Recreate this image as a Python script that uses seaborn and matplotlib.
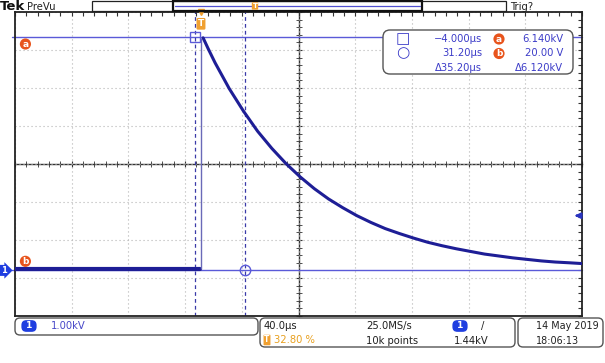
import numpy as np
import matplotlib
matplotlib.use("Agg")
import matplotlib.pyplot as plt
import seaborn as sns
from matplotlib.patches import FancyBboxPatch, Rectangle
from matplotlib.lines import Line2D

# --- data (time in µs, voltage in kV) ---
pre_t = [-131.2, -0.4]
pre_v = [0.03, 0.03]
edge_t = 0.3
decay_t = [1.5, 5, 10, 20, 30, 40, 50, 60, 70, 80, 90, 100, 110, 120, 130,
           140, 150, 160, 170, 180, 190, 200, 210, 220, 230, 240, 250, 260, 268.8]
decay_v = [6.12, 5.84, 5.46, 4.78, 4.19, 3.66, 3.21, 2.81, 2.46, 2.15, 1.88,
           1.65, 1.44, 1.26, 1.10, 0.97, 0.85, 0.74, 0.65, 0.57, 0.50, 0.43,
           0.38, 0.33, 0.29, 0.25, 0.22, 0.20, 0.18]

cursor_t = [-4.0, 31.2]       # vertical cursors a, b
cursor_v = [6.14, 0.02]       # horizontal cursors a, b
trig_level = 1.44
readout_t = ["\u22124.000µs", "31.20µs", "Δ35.20µs"]
readout_v = ["6.140kV", "20.00 V", "Δ6.120kV"]

# screen settings
t_div, v_div = 40.0, 1.0
t_left = -131.2
v_bottom = -1.2

TRACE = "#1e1e96"
CURSOR = "#5a5ad8"
TXT_BLUE = "#3c3cc8"
ORANGE = "#f0a030"
RED_OR = "#e8541c"
CH_BLUE = "#1f3ee0"
FS = 7.2

sns.set_style("white")
plt.rcParams["font.family"] = ["DejaVu Sans"]

W, H = 605, 363
fig = plt.figure(figsize=(6.05, 3.63), dpi=100)
ax = fig.add_axes([15 / W, 1 - 316 / H, 567 / W, 304 / H])

t_right = t_left + 10 * t_div
v_top = v_bottom + 8 * v_div
ax.set_xlim(t_left, t_right)
ax.set_ylim(v_bottom, v_top)

# graticule
x_major = t_left + t_div * np.arange(11)
y_major = v_bottom + v_div * np.arange(9)
x_minor = t_left + t_div / 5 * np.arange(51)
y_minor = v_bottom + v_div / 5 * np.arange(41)
ax.set_xticks(x_major)
ax.set_yticks(y_major)
ax.set_xticks(x_minor, minor=True)
ax.set_yticks(y_minor, minor=True)
ax.tick_params(which="both", direction="in", length=3, top=True, right=True,
               labelbottom=False, labelleft=False, color="#333333", width=0.8)
ax.grid(True, which="major", color="#b4b4b4", linestyle=(0, (1, 2.6)), linewidth=0.8)
for s in ax.spines.values():
    s.set_color("#222222")
    s.set_linewidth(1.3)

# centre cross with small ticks
secx = ax.secondary_xaxis(0.5)
secx.set_xticks(x_major)
secx.set_xticks(x_minor, minor=True)
secx.tick_params(which="both", direction="inout", length=4, color="#333333",
                 labeltop=False, labelbottom=False)
secy = ax.secondary_yaxis(0.5)
secy.set_yticks(y_major)
secy.set_yticks(y_minor, minor=True)
secy.tick_params(which="both", direction="inout", length=4, color="#333333",
                 labelleft=False, labelright=False)
for sec in (secx, secy):
    for s in sec.spines.values():
        s.set_color("#333333")
        s.set_linewidth(1.0)

# cursors
for v in cursor_v:
    ax.axhline(v, color=CURSOR, lw=1.0, xmin=-0.005, xmax=1.0, clip_on=False, zorder=2)
for t in cursor_t:
    ax.axvline(t, color="#3a3aa8", lw=0.9, ls=(0, (3, 2.5)), zorder=2)
ax.plot([cursor_t[0]], [cursor_v[0]], marker="s", ms=7.5, mfc="none", mec=CURSOR, mew=1, zorder=4)
ax.plot([cursor_t[1]], [cursor_v[1]], marker="o", ms=7.5, mfc="none", mec=CURSOR, mew=1, zorder=4)

# trace
sns.lineplot(x=pre_t, y=pre_v, ax=ax, color=TRACE, linewidth=3.0, zorder=3)
ax.vlines(edge_t, pre_v[-1], decay_v[0], color="#6a6ab8", lw=1.0, zorder=3)
sns.lineplot(x=decay_t, y=decay_v, ax=ax, color=TRACE, linewidth=2.2, zorder=3)

# markers on the screen
ax.annotate("a", xy=(0, cursor_v[0]), xycoords=("axes fraction", "data"),
            xytext=(7.5, -5), textcoords="offset points", ha="center", va="center",
            color="white", fontsize=6.5, fontweight="bold",
            bbox=dict(boxstyle="circle,pad=0.12", fc=RED_OR, ec="none"))
ax.annotate("b", xy=(0, cursor_v[1]), xycoords=("axes fraction", "data"),
            xytext=(7.5, 6), textcoords="offset points", ha="center", va="center",
            color="white", fontsize=6.5, fontweight="bold",
            bbox=dict(boxstyle="circle,pad=0.12", fc=RED_OR, ec="none"))
ax.annotate("1", xy=(0, 0), xycoords=("axes fraction", "data"),
            xytext=(-8, 0), textcoords="offset points", ha="center", va="center",
            color="white", fontsize=6, fontweight="bold", annotation_clip=False,
            bbox=dict(boxstyle="rarrow,pad=0.12", fc=CH_BLUE, ec="none"))
ax.annotate("", xy=(0.982, trig_level), xycoords=("axes fraction", "data"),
            xytext=(0.998, trig_level),
            arrowprops=dict(arrowstyle="-|>", color="#2a34c0", lw=1.6, mutation_scale=8))
ax.plot([0], [1], transform=ax.get_xaxis_transform(), marker="v", color=ORANGE,
        ms=5, clip_on=False, zorder=5)
ax.annotate("T", xy=(0, 1), xycoords=("data", "axes fraction"),
            xytext=(0, -8.5), textcoords="offset points", ha="center", va="center",
            color="white", fontsize=6.5, fontweight="bold",
            bbox=dict(boxstyle="round,pad=0.15", fc=ORANGE, ec="none"))


def ftext(px, py, s, **kw):
    kw.setdefault("fontsize", FS)
    kw.setdefault("va", "center")
    return fig.text(px / W, 1 - py / H, s, **kw)


def fbox(x0, y0, x1, y1, ec="#555555", lw=1.0, r=0.05):
    p = FancyBboxPatch((x0 / 100, (H - y1) / 100), (x1 - x0) / 100, (y1 - y0) / 100,
                       boxstyle=f"round,pad=0,rounding_size={r}",
                       transform=fig.dpi_scale_trans, fc="white", ec=ec, lw=lw, zorder=3)
    fig.add_artist(p)


def chan_oval(px, py):
    ftext(px, py, " 1 ", ha="center", color="white", fontsize=6.5, fontweight="bold",
          bbox=dict(boxstyle="round,pad=0.15,rounding_size=0.55", fc=CH_BLUE, ec="none"),
          zorder=5)


# top bar
ftext(0, 7, "Tek", fontsize=9.5, fontweight="bold", color="#111111")
ftext(27, 7, "PreVu", fontsize=FS, color="#222222")
fig.add_artist(Rectangle((92 / W, 1 - 11 / H), (506 - 92) / W, 10 / H, fill=False,
                         ec="#222222", lw=0.9, transform=fig.transFigure))
fig.add_artist(Rectangle((173 / W, 1 - 11 / H), (422 - 173) / W, 10 / H, fill=False,
                         ec="#111111", lw=1.6, transform=fig.transFigure))
fig.add_artist(Line2D([175 / W, 420 / W], [1 - 5.5 / H] * 2, color="#5050d0", lw=0.9,
                      transform=fig.transFigure))
ftext(255, 6, "T", ha="center", color="white", fontsize=5, fontweight="bold",
      bbox=dict(boxstyle="round,pad=0.1", fc=ORANGE, ec="none"))
ftext(510, 7, "Trig?", fontsize=FS, color="#222222")

# cursor readout
fbox(383, 30, 573, 74, ec="#555555", r=0.07)
ftext(403, 39, "□", ha="center", fontsize=11, color=TXT_BLUE, zorder=5)
ftext(403, 53, "○", ha="center", fontsize=11, color=TXT_BLUE, zorder=5)
for i, (st, sv) in enumerate(zip(readout_t, readout_v)):
    py = 39 + 14.5 * i
    ftext(482, py, st, ha="right", color=TXT_BLUE, zorder=5)
    ftext(563, py, sv, ha="right", color=TXT_BLUE, zorder=5)
for i, lab in enumerate(["a", "b"]):
    ftext(499, 39 + 14.5 * i, lab, ha="center", color="white", fontsize=6.5,
          fontweight="bold", zorder=5,
          bbox=dict(boxstyle="circle,pad=0.12", fc=RED_OR, ec="none"))

# bottom status
fbox(15, 318, 258, 335)
chan_oval(29, 326)
ftext(51, 326, "1.00kV", color="#4848c8", zorder=5)

fbox(260, 318, 515, 347)
ftext(264, 326, "40.0µs", color="#202020", zorder=5)
ftext(267, 340, "T", ha="center", color="white", fontsize=5.5, fontweight="bold", zorder=5,
      bbox=dict(boxstyle="round,pad=0.1", fc=ORANGE, ec="none"))
ftext(274, 340, "32.80 %", color="#e8a020", zorder=5)
ftext(366, 326, "25.0MS/s", color="#202020", zorder=5)
ftext(366, 341, "10k points", color="#202020", zorder=5)
chan_oval(460, 326)
ftext(483, 326, "/", ha="center", color="#202020", zorder=5)
ftext(454, 341, "1.44kV", color="#202020", zorder=5)

fbox(518, 318, 603, 347)
ftext(536, 326, "14 May 2019", color="#202020", fontsize=6.9, zorder=5)
ftext(536, 341, "18:06:13", color="#202020", fontsize=6.9, zorder=5)

fig.savefig("out.png", dpi=100, facecolor="white")
